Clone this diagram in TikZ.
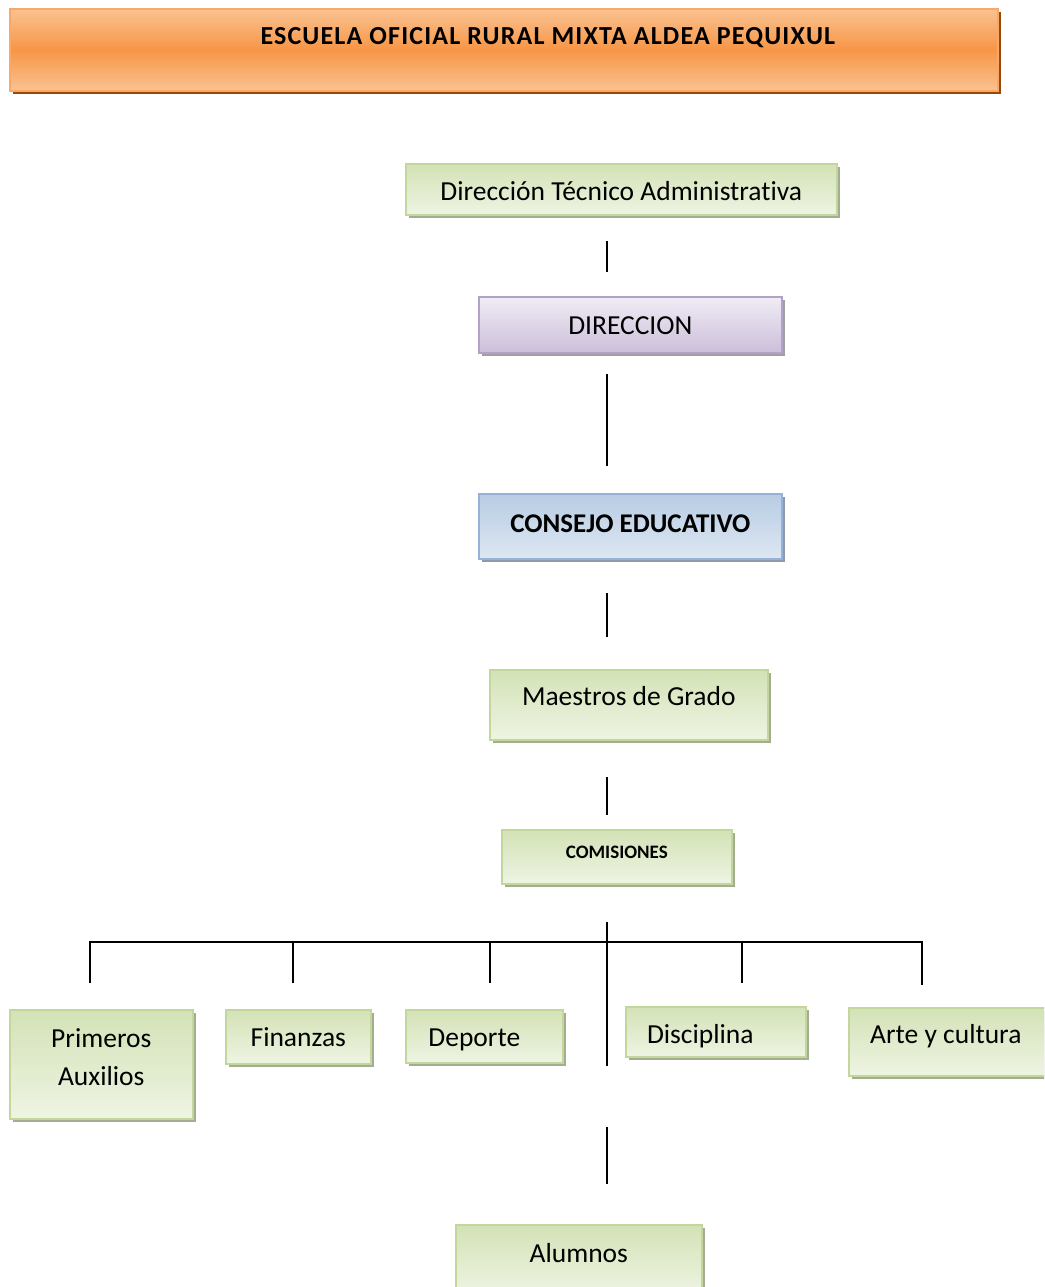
\documentclass[tikz,border=0pt]{standalone}
\usepackage{fontspec}
\setmainfont{Carlito}[Ligatures=NoCommon]
\newfontfamily\titlefont{Carlito}[Ligatures=NoCommon, LetterSpace=4.5]
\usetikzlibrary{shadows}
\definecolor{ortop}{HTML}{FAC291}
\definecolor{ormid}{HTML}{F79646}
\definecolor{orborder}{HTML}{F9A86A}
\definecolor{orshadow}{HTML}{984807}
\definecolor{grtop}{HTML}{D3E2B6}
\definecolor{grbot}{HTML}{EEF4E3}
\definecolor{grborder}{HTML}{C3D69B}
\definecolor{grshadow}{HTML}{A3AD92}
\definecolor{putop}{HTML}{F1ECF6}
\definecolor{pubot}{HTML}{CBBFDA}
\definecolor{puborder}{HTML}{B3A2C7}
\definecolor{blutop}{HTML}{B8CCE4}
\definecolor{blubot}{HTML}{DDE7F2}
\definecolor{bluborder}{HTML}{95B3D7}
\definecolor{gshadow}{HTML}{A0A0A0}
\definecolor{bshadow}{HTML}{8E9AAB}
\tikzset{
  boxbase/.style={line width=1.6pt, inner xsep=0pt, inner ysep=0pt, anchor=north west, align=center,
    font=\fontsize{27.5}{38}\selectfont},
  greenbox/.style={boxbase, draw=grborder, top color=grtop, bottom color=grbot,
    general shadow={fill=grshadow, shadow xshift=3pt, shadow yshift=-3pt}},
  purplebox/.style={boxbase, draw=puborder, top color=putop, bottom color=pubot,
    general shadow={fill=gshadow, shadow xshift=3pt, shadow yshift=-3pt}},
  bluebox/.style={boxbase, draw=bluborder, top color=blutop, bottom color=blubot,
    general shadow={fill=bshadow, shadow xshift=3pt, shadow yshift=-3pt}},
  titlebox/.style={boxbase, draw=orborder, top color=ortop, bottom color=ortop, middle color=ormid,
    general shadow={fill=orshadow, shadow xshift=3pt, shadow yshift=-3pt}},
  conn/.style={line width=1.6pt, black},
}
\begin{document}
\begin{tikzpicture}[x=1pt,y=-1pt]
\useasboundingbox (0,0) rectangle (1044,1287);
\clip (0,0) rectangle (1044,1287);

\node[titlebox, minimum width=988pt, text height=36pt, text depth=46pt,
  font=\titlefont\fontsize{26}{30}\selectfont\bfseries] (title) at (9,8) {\hspace*{88pt}ESCUELA OFICIAL RURAL MIXTA ALDEA PEQUIXUL};

\node[greenbox, minimum width=431pt, text height=37pt, text depth=14pt] (dta) at (405,163) {Dirección Técnico Administrativa};
\node[purplebox, minimum width=303pt, text height=38pt, text depth=18pt] (dir) at (478,296) {DIRECCION};
\node[bluebox, minimum width=303pt, text height=39pt, text depth=26pt, font=\fontsize{27}{31}\selectfont\bfseries] (cons) at (478,493) {CONSEJO EDUCATIVO};
\node[greenbox, minimum width=278pt, text height=36pt, text depth=34pt] (maes) at (489,669) {Maestros de Grado};
\node[greenbox, minimum width=230pt, text height=29pt, text depth=25pt, font=\fontsize{19}{23}\selectfont\bfseries] (com) at (501,829) {COMISIONES};

\node[greenbox, minimum width=183pt, text height=76pt, text depth=33pt] (prim) at (9,1009) {Primeros\\Auxilios};
\node[greenbox, minimum width=145pt, text height=37pt, text depth=17pt] (fin) at (225,1009) {Finanzas};
\node[greenbox, minimum width=157pt, text height=37pt, text depth=16pt] (dep) at (405,1009) {Deporte\hspace*{20pt}};
\node[greenbox, minimum width=180pt, text height=37pt, text depth=13pt] (dis) at (625,1006) {Disciplina\hspace*{31pt}};
\node[greenbox, minimum width=202pt, text height=36pt, text depth=32pt] (arte) at (848,1007) {Arte y cultura\hspace*{8pt}};
\node[greenbox, minimum width=246pt, text height=38pt, text depth=32pt] (alum) at (455,1224) {Alumnos};

% connectors (free-standing segments between boxes)
\coordinate (c1a) at (607,241); \coordinate (c1b) at (607,272);
\coordinate (c2a) at (607,374); \coordinate (c2b) at (607,466);
\coordinate (c3a) at (607,593); \coordinate (c3b) at (607,637);
\coordinate (c4a) at (607,777); \coordinate (c4b) at (607,815);
\coordinate (c5a) at (607,922); \coordinate (c5b) at (607,1066);
\coordinate (hl) at (90,942); \coordinate (hr) at (922,942);
\coordinate (d1) at (90,983); \coordinate (d2a) at (293,942); \coordinate (d2) at (293,983);
\coordinate (d3a) at (490,942); \coordinate (d3) at (490,983);
\coordinate (d4a) at (742,942); \coordinate (d4) at (742,983);
\coordinate (d5) at (922,985);
\coordinate (c6a) at (607,1127); \coordinate (c6b) at (607,1184);

\draw[conn] (c1a) -- (c1b);
\draw[conn] (c2a) -- (c2b);
\draw[conn] (c3a) -- (c3b);
\draw[conn] (c4a) -- (c4b);
\draw[conn] (c5a) -- (c5b);
\draw[conn] (d1) -- (hl) -- (hr) -- (d5);
\draw[conn] (d2a) -- (d2);
\draw[conn] (d3a) -- (d3);
\draw[conn] (d4a) -- (d4);
\draw[conn] (c6a) -- (c6b);
\end{tikzpicture}
\end{document}
